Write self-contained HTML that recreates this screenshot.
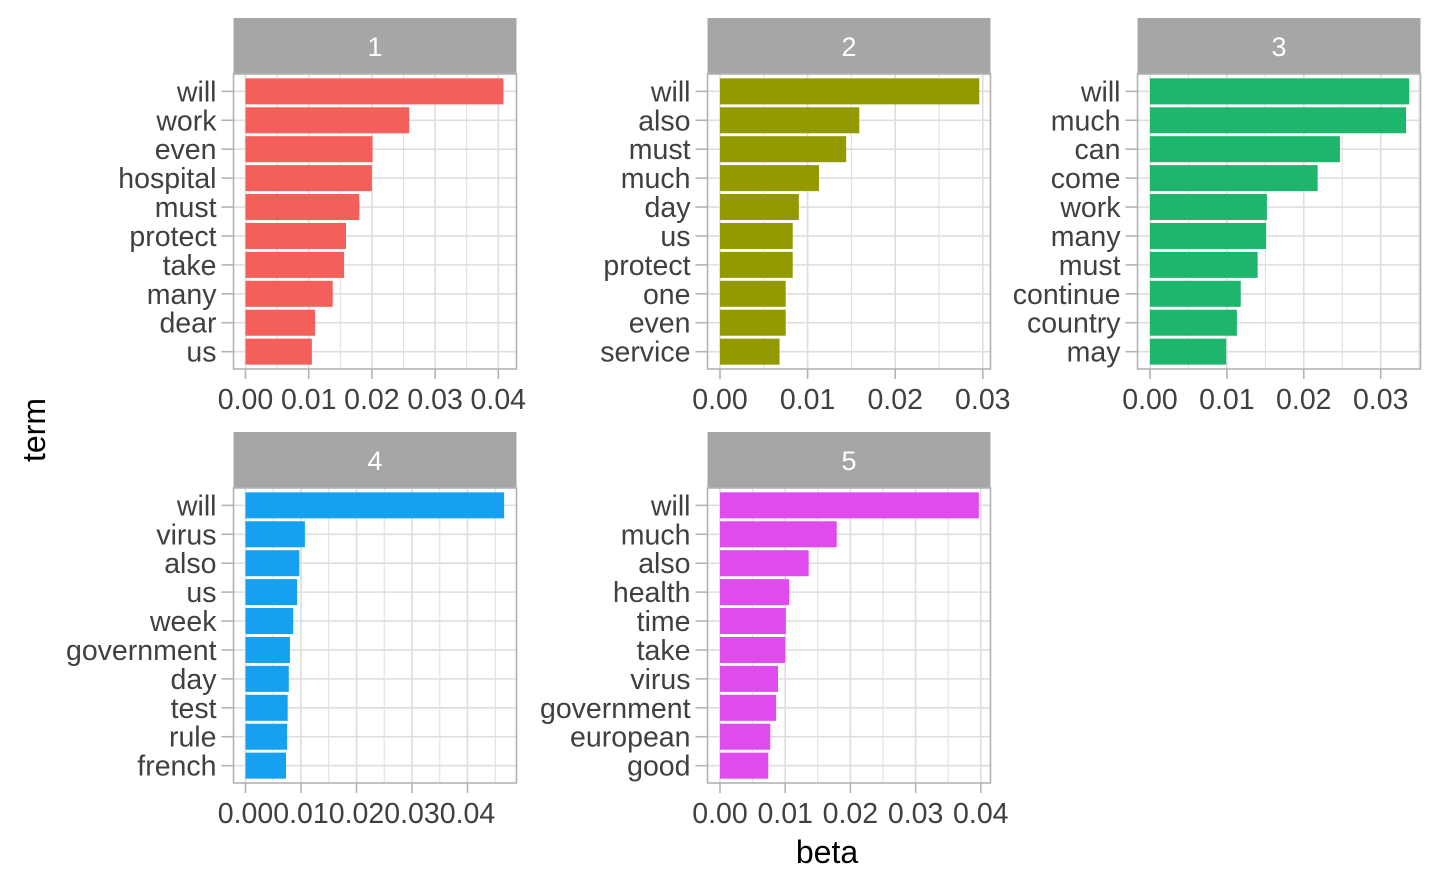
<!DOCTYPE html>
<html><head><meta charset="utf-8"><style>
html,body{margin:0;padding:0;background:#fff;}
svg{display:block;font-family:"Liberation Sans",Arial,sans-serif;}
</style></head><body>
<svg id="chart" width="1440" height="889" viewBox="0 0 1440 889">
<text x="45" y="430" font-size="32" text-anchor="middle" transform="rotate(-90 45 430)">term</text>
<text x="827" y="863" font-size="32" text-anchor="middle">beta</text>
</svg>
<script>
const topics = ["1","2","3","4","5"];
const colors = ["#F45F5C", "#939A00", "#1DB66C", "#16A0F0", "#DF4BEE"];
const terms1 = ["will","work","even","hospital","must","protect","take","many","dear","us"];
const beta1 = [0.0408,0.0259,0.0201,0.0200,0.0180,0.0159,0.0156,0.0138,0.0110,0.0105];
const terms2 = ["will","also","must","much","day","us","protect","one","even","service"];
const beta2 = [0.0296,0.0159,0.0144,0.0113,0.0090,0.0083,0.0083,0.0075,0.0075,0.0068];
const terms3 = ["will","much","can","come","work","many","must","continue","country","may"];
const beta3 = [0.0337,0.0333,0.0247,0.0218,0.0152,0.0151,0.0140,0.0118,0.0113,0.0099];
const terms4 = ["will","virus","also","us","week","government","day","test","rule","french"];
const beta4 = [0.0466,0.0107,0.0097,0.0093,0.0086,0.0080,0.0078,0.0076,0.0075,0.0073];
const terms5 = ["will","much","also","health","time","take","virus","government","european","good"];
const beta5 = [0.0397,0.0179,0.0136,0.0106,0.0101,0.0100,0.0089,0.0086,0.0077,0.0074];
const ticks1 = ["0.00","0.01","0.02","0.03","0.04"];
const ticks2 = ["0.00","0.01","0.02","0.03"];
const ticks3 = ["0.00","0.01","0.02","0.03"];
const ticks4 = ["0.00","0.01","0.02","0.03","0.04"];
const ticks5 = ["0.00","0.01","0.02","0.03","0.04"];

const NS = "http://www.w3.org/2000/svg";
const svg = document.getElementById("chart");
function mk(tag, attrs, parent){const e=document.createElementNS(NS,tag);for(const k in attrs)e.setAttribute(k,attrs[k]);(parent||svg).appendChild(e);return e;}

const panels = [
 {l:233.5,r:516.5,t:18,x0:245.5,u:63.2,terms:terms1,vals:beta1,ticks:ticks1},
 {l:707.5,r:990.5,t:18,x0:720,u:87.6,terms:terms2,vals:beta2,ticks:ticks2},
 {l:1137.5,r:1420.5,t:18,x0:1150,u:76.9,terms:terms3,vals:beta3,ticks:ticks3},
 {l:233.5,r:516.5,t:432,x0:245.5,u:55.5,terms:terms4,vals:beta4,ticks:ticks4},
 {l:707.5,r:990.5,t:432,x0:720,u:65.2,terms:terms5,vals:beta5,ticks:ticks5}
];
const FS = 28.5;
panels.forEach((p,i)=>{
  const g = mk("g",{});
  
  
  const st=p.t, pt=p.t+56, pb=pt+295;
  const strip=mk("rect",{x:p.l,y:st,width:p.r-p.l,height:56,fill:"#a6a6a6"},g);
  
  
  const stxt=mk("text",{x:(p.l+p.r)/2,y:st+38,"font-size":27,fill:"#fff","text-anchor":"middle"},g);
  stxt.textContent=topics[i];
  
  
  const xs = v => p.x0 + v/0.01*p.u;
  const n=p.terms.length, step=(pb-pt)/(n+0.2);
  const ys = k => pt + step*(0.6+k);
  for(let t=0;t<p.ticks.length*2;t++){
    const x=xs(t*0.005); if(x>p.r) break;
    const gl=mk("line",{x1:x,x2:x,y1:pt,y2:pb,stroke:"#dedede","stroke-width":t%2?1:1.6},g);
    
    
  }
  for(let k=0;k<n;k++){
    const gl=mk("line",{x1:p.l,x2:p.r,y1:ys(k),y2:ys(k),stroke:"#dedede","stroke-width":1.6},g);
    
    
  }
  for(let k=0;k<n;k++){
    const bh=step*0.9;
    const b=mk("rect",{x:xs(0),y:ys(k)-bh/2,width:xs(p.vals[k])-xs(0),height:bh,fill:colors[i]},g);
    
    
    const tk=mk("line",{x1:p.l-12,x2:p.l,y1:ys(k),y2:ys(k),stroke:"#b3b3b3","stroke-width":1.6},g);
    
    
    const lb=mk("text",{x:p.l-17,y:ys(k)+10,"font-size":FS,fill:"#404040","text-anchor":"end"},g);
    lb.textContent=p.terms[k];
    
    
  }
  const border=mk("rect",{x:p.l,y:pt,width:p.r-p.l,height:pb-pt,fill:"none",stroke:"#b3b3b3","stroke-width":1.6},g);
  
  
  p.ticks.forEach((t,j)=>{
    const x=xs(parseFloat(t));
    const tk=mk("line",{x1:x,x2:x,y1:pb,y2:pb+10,stroke:"#b3b3b3","stroke-width":1.6},g);
    
    
    const lb=mk("text",{x:x,y:pb+40,"font-size":FS,fill:"#404040","text-anchor":"middle"},g);
    lb.textContent=t;
    
    
  });
});
</script>
</body></html>
